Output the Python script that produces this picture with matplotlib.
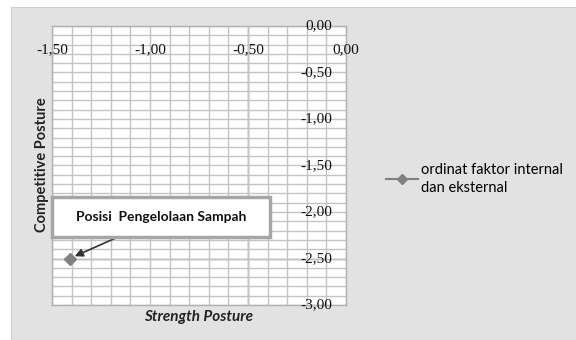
import matplotlib.pyplot as plt
import matplotlib.patches as mpatches
import numpy as np

# Data
strength_posture = [-1.41]
competitive_posture = [-2.50]
series_label = 'ordinat faktor internal\ndan eksternal'
point_label = 'Posisi  Pengelolaan Sampah'
x_ticks = [-1.50, -1.00, -0.50, 0.00]
y_ticks = [0.00, -0.50, -1.00, -1.50, -2.00, -2.50, -3.00]

W, H = 576, 340
fig = plt.figure(figsize=(W / 100, H / 100), dpi=100, facecolor='white')

# Grey chart area behind everything
fig.patches.append(mpatches.Rectangle((11 / W, 0), 1 - 11 / W, 1 - 7 / H,
                                      transform=fig.transFigure,
                                      facecolor='#e2e2e2', edgecolor='#d0d0d0',
                                      lw=0.8, zorder=-5))

ax = fig.add_axes([52 / W, 35 / H, 294 / W, 279 / H])
ax.set_facecolor('white')
ax.set_xlim(-1.5, 0)
ax.set_ylim(-3, 0)

# 0.1 grid both ways
ax.set_xticks(np.arange(-1.5, 0.001, 0.1))
ax.set_yticks(np.arange(-3.0, 0.001, 0.1))
ax.grid(True, color='#c4c4c4', lw=1.0)
ax.tick_params(length=0, labelbottom=False, labelleft=False)
for s in ax.spines.values():
    s.set_color('#b0b0b0')
    s.set_linewidth(1.0)

# darker crossing lines
ax.axvline(-0.5, color='#8a8a8a', lw=1.0, zorder=1)
ax.axhline(-2.5, color='#8a8a8a', lw=1.0, zorder=1)

def fmt(v):
    return f'{v:.2f}'.replace('.', ',').replace('-0,00', '0,00')

tick_font = dict(family='Liberation Serif', fontsize=11, color='#111111')
for v in x_ticks:
    ax.text(v, 0.914, fmt(v), transform=ax.get_xaxis_transform(),
            ha='center', va='center', **tick_font)
for v in y_ticks:
    ax.text(0.952, v, fmt(v), transform=ax.get_yaxis_transform(),
            ha='right', va='center', clip_on=False, **tick_font)

# series
ax.plot(strength_posture, competitive_posture, color='#808080', marker='D',
        markersize=6, lw=1.5, zorder=5, clip_on=False, label=series_label)

# axis titles
fig.text(42 / W, 1 - 165 / H, 'Competitive Posture', rotation=90,
         ha='center', va='center', family='Lato', fontweight='bold',
         fontsize=10.5, color='#222222')
fig.text(199 / W, 1 - 317 / H, 'Strength Posture', ha='center', va='center',
         family='Lato', fontweight='bold', style='italic', fontsize=11,
         color='#222222')

# callout box
fig.patches.append(mpatches.Rectangle((52 / W, 1 - 237 / H), 218 / W, 40 / H,
                                      transform=fig.transFigure,
                                      facecolor='white', edgecolor='#a6a6a6',
                                      lw=2.5, zorder=6))
fig.text(161 / W, 1 - 217 / H, point_label, ha='center', va='center',
         family='Lato', fontweight='bold', fontsize=10, color='#111111',
         zorder=7)
ax.annotate('', xy=(strength_posture[0], competitive_posture[0]),
            xycoords='data',
            xytext=(118 / W, 1 - 237 / H), textcoords='figure fraction',
            arrowprops=dict(arrowstyle='-|>', color='#333333', lw=1.2,
                            mutation_scale=12, shrinkA=0, shrinkB=4),
            zorder=7)

# legend
leg = fig.legend(loc='upper left', bbox_to_anchor=(380 / W, 1 - 157 / H),
                 frameon=False, prop=dict(family='Lato', size=10.5),
                 handlelength=2.2, handletextpad=0.2, borderaxespad=0,
                 markerscale=0.8)
for t in leg.get_texts():
    t.set_linespacing(1.35)

plt.savefig('out.png', dpi=100, facecolor=fig.get_facecolor())
